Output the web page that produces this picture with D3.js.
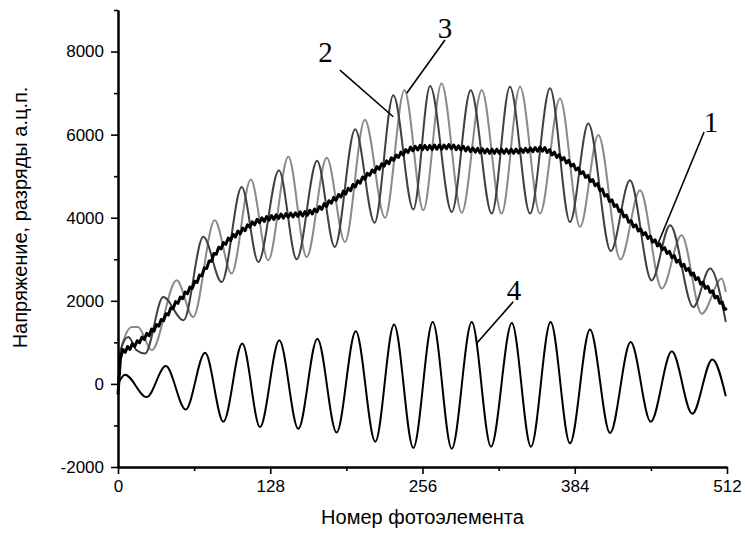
<!DOCTYPE html>
<html>
<head>
<meta charset="utf-8">
<script src="https://cdn.jsdelivr.net/npm/d3@7/dist/d3.min.js"></script>
<style>
  html, body { margin: 0; padding: 0; background: #fff; }
  svg { display: block; }
</style>
</head>
<body>
<svg id="chart" width="745" height="533"></svg>
<script>
// Curve 1: averaged signal, one sample every other photoelement (0 … 511)
const curve1 = [
  -250, 600, 830, 760, 900, 830, 970, 900, 1040, 990, 1130, 1070, 1220, 1160, 1320, 1270,
  1430, 1390, 1550, 1520, 1690, 1660, 1830, 1810, 1980, 1940, 2090, 2050, 2210, 2170, 2330, 2300,
  2470, 2440, 2620, 2600, 2790, 2780, 2960, 2950, 3140, 3120, 3290, 3250, 3400, 3360, 3510, 3450,
  3600, 3540, 3680, 3610, 3750, 3690, 3830, 3770, 3900, 3830, 3960, 3880, 4000, 3910, 4030, 3940,
  4050, 3960, 4070, 3980, 4090, 3990, 4100, 4010, 4110, 4020, 4120, 4030, 4140, 4040, 4150, 4060,
  4180, 4090, 4210, 4140, 4270, 4200, 4340, 4270, 4410, 4350, 4490, 4420, 4560, 4500, 4640, 4570,
  4710, 4650, 4800, 4740, 4890, 4830, 4980, 4920, 5070, 5020, 5150, 5090, 5230, 5170, 5300, 5240,
  5370, 5300, 5440, 5380, 5510, 5450, 5580, 5510, 5640, 5570, 5700, 5610, 5720, 5630, 5740, 5640,
  5740, 5640, 5740, 5640, 5750, 5650, 5750, 5650, 5750, 5660, 5760, 5660, 5750, 5640, 5730, 5630,
  5720, 5610, 5700, 5590, 5680, 5580, 5670, 5560, 5660, 5560, 5650, 5550, 5650, 5550, 5650, 5550,
  5650, 5550, 5650, 5550, 5650, 5550, 5650, 5560, 5660, 5570, 5670, 5580, 5680, 5590, 5690, 5600,
  5700, 5600, 5690, 5570, 5640, 5510, 5580, 5450, 5520, 5390, 5450, 5320, 5380, 5240, 5290, 5150,
  5200, 5060, 5110, 4970, 5020, 4870, 4920, 4770, 4820, 4650, 4690, 4520, 4560, 4390, 4430, 4270,
  4310, 4150, 4190, 4020, 4060, 3890, 3930, 3780, 3830, 3680, 3730, 3590, 3640, 3500, 3560, 3410,
  3470, 3320, 3370, 3230, 3280, 3140, 3190, 3040, 3090, 2930, 2980, 2830, 2880, 2730, 2780, 2620,
  2670, 2510, 2560, 2400, 2450, 2300, 2350, 2200, 2240, 2070, 2110, 1940, 1970, 1790, 1820
];

// Curve 2: turning points of the first shifted signal (photoelement, value)
const curve2X = [0, 2, 8.7, 15.7, 22.8, 38, 55.1, 71.7, 87.2, 104, 118, 135.3, 150.2, 167.4, 182.2,
  199.4, 215.7, 231.5, 248.3, 262.4, 280.6, 296.5, 314.2, 329.5, 346.4, 363.2, 380, 395.4,
  414.3, 430.4, 448.6, 464.2, 483.7, 497.7, 511];
const curve2Y = [-250, 800, 1130, 810, 730, 2090, 1530, 3540, 2450, 4740, 2935, 5145, 3000, 5370, 3295,
  6130, 3880, 6950, 4200, 7170, 4140, 7070, 4100, 7150, 4100, 7115, 3900, 6270,
  3200, 4900, 2490, 3820, 1850, 2775, 1490];

// Curve 3: turning points of the second shifted signal
const curve3X = [0, 2, 5.7, 11.7, 16.8, 28.4, 49.3, 63.2, 81.3, 95.5, 111.6, 126.3, 143.2, 158.6, 175.5,
  190.8, 207.5, 224.5, 240.8, 256.7, 272, 289, 305.8, 322.5, 338, 354.8, 371.6, 388.5,
  403.8, 422.4, 438.9, 457.2, 473.8, 490.8, 507.6, 511];
const curve3Y = [-250, 700, 1130, 1370, 1370, 810, 2495, 1610, 3940, 2655, 4920, 2975, 5465, 3055, 5445,
  3415, 6360, 4000, 7070, 4180, 7230, 4120, 7070, 4100, 7150, 4100, 6870, 3780,
  5990, 2995, 4660, 2295, 3580, 1690, 2535, 2210];

// Curve 4: difference signal, turning points
const curve4X = [0, 5.9, 24.1, 40.2, 56.9, 73.2, 88.6, 104.5, 119.4, 135.6, 151.6, 167.6, 183.8, 199.9,
  216.3, 232.1, 248.3, 264.6, 280.6, 297.4, 313.6, 331.1, 347.2, 363.7, 380, 396.8,
  413.7, 431, 447.9, 465.6, 482.8, 499.7, 511];
const curve4Y = [0, 220, -318, 430, -615, 750, -910, 970, -1040, 1050, -1080, 1090, -1170, 1270,
  -1390, 1430, -1540, 1490, -1560, 1490, -1510, 1465, -1510, 1490, -1430, 1310,
  -1180, 1010, -910, 785, -720, 590, -295];

const xTicks = [0, 128, 256, 384, 512];
const xMinorTicks = [64, 192, 320, 448];
const yTicks = [-2000, 0, 2000, 4000, 6000, 8000];
const yMinorTicks = [-1000, 1000, 3000, 5000, 7000, 9000];
const curveNames = ["1", "2", "3", "4"];

const xTitle = "Номер фотоэлемента";
const yTitle = "Напряжение, разряды а.ц.п.";

const svg = d3.select("#chart");
const sans = "'Liberation Sans', Arial, Helvetica, sans-serif";
const serif = "'Liberation Serif', 'Times New Roman', serif";

const x = d3.scaleLinear().domain([0, 512]).range([118, 727]);
const y = d3.scaleLinear().domain([-2000, 9000]).range([467, 10]);

// plain integers with an ASCII hyphen for negatives
const plainNumber = d => String(d);

// ----- curves -----
const zip = (xs, ys) => xs.map((v, i) => [v, ys[i]]);
const smooth = d3.line().x(d => x(d[0])).y(d => y(d[1])).curve(d3.curveMonotoneX);
const straight = d3.line().x(d => x(d[0])).y(d => y(d[1]));

const plot = svg.append("g").attr("fill", "none").attr("stroke-linejoin", "round");

plot.append("path")
  .attr("d", smooth(zip(curve3X, curve3Y)))
  .attr("stroke", "#8a8a8a").attr("stroke-width", 2);

plot.append("path")
  .attr("d", smooth(zip(curve2X, curve2Y)))
  .attr("stroke", "#404040").attr("stroke-width", 2);

const step1 = 512 / (curve1.length - 1);
plot.append("path")
  .attr("d", straight(curve1.map((v, i) => [i * step1, v])))
  .attr("stroke", "#000").attr("stroke-width", 3);

plot.append("path")
  .attr("d", smooth(zip(curve4X, curve4Y)))
  .attr("stroke", "#000").attr("stroke-width", 2);

// ----- axes -----
function styleAxis(g) {
  g.select(".domain").attr("stroke", "#000").attr("stroke-width", 2);
  g.selectAll(".tick line").attr("stroke", "#000").attr("stroke-width", 1.6);
  g.selectAll(".tick text").attr("fill", "#000")
    .style("font-family", sans).style("font-size", "17px");
}

svg.append("g")
  .attr("transform", `translate(0,${y(-2000)})`)
  .call(d3.axisBottom(x).tickValues(xMinorTicks).tickSize(4).tickSizeOuter(0).tickFormat(""))
  .call(styleAxis);
svg.append("g")
  .attr("transform", `translate(0,${y(-2000)})`)
  .call(d3.axisBottom(x).tickValues(xTicks).tickSize(7).tickSizeOuter(0).tickPadding(6)
    .tickFormat(plainNumber))
  .call(styleAxis);

svg.append("g")
  .attr("transform", `translate(${x(0)},0)`)
  .call(d3.axisLeft(y).tickValues(yMinorTicks).tickSize(4).tickSizeOuter(0).tickFormat(""))
  .call(styleAxis);
svg.append("g")
  .attr("transform", `translate(${x(0)},0)`)
  .call(d3.axisLeft(y).tickValues(yTicks).tickSize(7).tickSizeOuter(0).tickPadding(7)
    .tickFormat(plainNumber))
  .call(styleAxis);

// ----- axis titles -----
svg.append("text")
  .attr("x", (x(0) + x(512)) / 2).attr("y", 524)
  .attr("text-anchor", "middle")
  .style("font-family", sans).style("font-size", "20px")
  .text(xTitle);

svg.append("text")
  .attr("transform", `translate(27,${(y(-2000) + y(9000)) / 2 - 21}) rotate(-90)`)
  .attr("text-anchor", "middle")
  .style("font-family", sans).style("font-size", "20px")
  .text(yTitle);

// ----- curve numbers with leader lines (anchored in data space) -----
const callouts = [
  { name: curveNames[0], text: [498.5, 6063], from: [492.7, 6063], to: [452.9, 3302] },
  { name: curveNames[1], text: [174.4, 7747], from: [186.6, 7554], to: [231.4, 6431] },
  { name: curveNames[2], text: [274.9, 8325], from: [274.9, 8276], to: [242.7, 6994] },
  { name: curveNames[3], text: [332.9, 2019], from: [332.3, 1978], to: [301.6, 977] }
];

const notes = svg.append("g");
callouts.forEach(c => {
  notes.append("line")
    .attr("x1", x(c.from[0])).attr("y1", y(c.from[1]))
    .attr("x2", x(c.to[0])).attr("y2", y(c.to[1]))
    .attr("stroke", "#000").attr("stroke-width", 1.6);
  notes.append("text")
    .attr("x", x(c.text[0])).attr("y", y(c.text[1]))
    .attr("text-anchor", "middle")
    .style("font-family", serif).style("font-size", "29px")
    .text(c.name);
});
</script>
</body>
</html>
